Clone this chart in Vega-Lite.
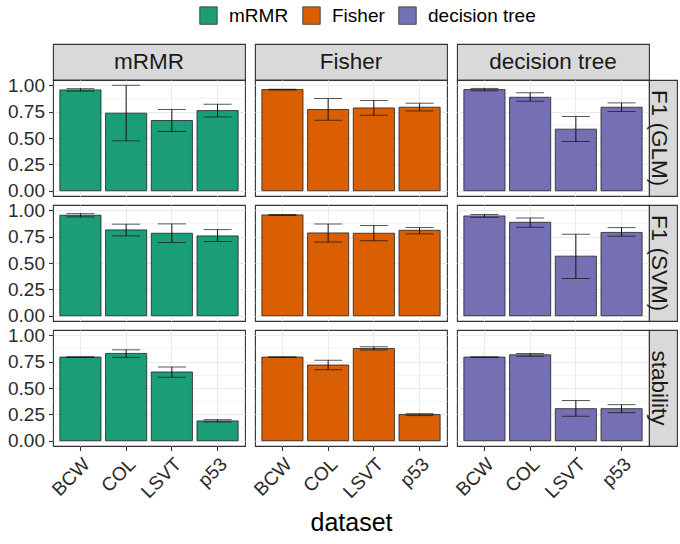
{
  "$schema": "https://vega.github.io/schema/vega-lite/v6.json",
  "background": "white",
  "padding": {"left": 6, "top": 6, "right": 0, "bottom": 4},
  "datasets": {
    "bars": [
      {"method": "mRMR", "metric": "F1 (GLM)", "dataset": "BCW", "mean": 0.956, "lo": 0.945, "hi": 0.968},
      {"method": "mRMR", "metric": "F1 (GLM)", "dataset": "COL", "mean": 0.735, "lo": 0.473, "hi": 1.0},
      {"method": "mRMR", "metric": "F1 (GLM)", "dataset": "LSVT", "mean": 0.666, "lo": 0.562, "hi": 0.77},
      {"method": "mRMR", "metric": "F1 (GLM)", "dataset": "p53", "mean": 0.76, "lo": 0.70, "hi": 0.82},
      {"method": "Fisher", "metric": "F1 (GLM)", "dataset": "BCW", "mean": 0.959, "lo": 0.955, "hi": 0.963},
      {"method": "Fisher", "metric": "F1 (GLM)", "dataset": "COL", "mean": 0.77, "lo": 0.669, "hi": 0.874},
      {"method": "Fisher", "metric": "F1 (GLM)", "dataset": "LSVT", "mean": 0.785, "lo": 0.716, "hi": 0.855},
      {"method": "Fisher", "metric": "F1 (GLM)", "dataset": "p53", "mean": 0.792, "lo": 0.757, "hi": 0.83},
      {"method": "decision tree", "metric": "F1 (GLM)", "dataset": "BCW", "mean": 0.959, "lo": 0.948, "hi": 0.97},
      {"method": "decision tree", "metric": "F1 (GLM)", "dataset": "COL", "mean": 0.886, "lo": 0.849, "hi": 0.93},
      {"method": "decision tree", "metric": "F1 (GLM)", "dataset": "LSVT", "mean": 0.584, "lo": 0.467, "hi": 0.704},
      {"method": "decision tree", "metric": "F1 (GLM)", "dataset": "p53", "mean": 0.792, "lo": 0.751, "hi": 0.833},
      {"method": "mRMR", "metric": "F1 (SVM)", "dataset": "BCW", "mean": 0.953, "lo": 0.937, "hi": 0.968},
      {"method": "mRMR", "metric": "F1 (SVM)", "dataset": "COL", "mean": 0.814, "lo": 0.757, "hi": 0.868},
      {"method": "mRMR", "metric": "F1 (SVM)", "dataset": "LSVT", "mean": 0.782, "lo": 0.694, "hi": 0.871},
      {"method": "mRMR", "metric": "F1 (SVM)", "dataset": "p53", "mean": 0.757, "lo": 0.704, "hi": 0.817},
      {"method": "Fisher", "metric": "F1 (SVM)", "dataset": "BCW", "mean": 0.956, "lo": 0.951, "hi": 0.961},
      {"method": "Fisher", "metric": "F1 (SVM)", "dataset": "COL", "mean": 0.785, "lo": 0.70, "hi": 0.871},
      {"method": "Fisher", "metric": "F1 (SVM)", "dataset": "LSVT", "mean": 0.782, "lo": 0.71, "hi": 0.855},
      {"method": "Fisher", "metric": "F1 (SVM)", "dataset": "p53", "mean": 0.81, "lo": 0.776, "hi": 0.836},
      {"method": "decision tree", "metric": "F1 (SVM)", "dataset": "BCW", "mean": 0.946, "lo": 0.932, "hi": 0.96},
      {"method": "decision tree", "metric": "F1 (SVM)", "dataset": "COL", "mean": 0.886, "lo": 0.839, "hi": 0.927},
      {"method": "decision tree", "metric": "F1 (SVM)", "dataset": "LSVT", "mean": 0.565, "lo": 0.354, "hi": 0.773},
      {"method": "decision tree", "metric": "F1 (SVM)", "dataset": "p53", "mean": 0.79, "lo": 0.754, "hi": 0.836},
      {"method": "mRMR", "metric": "stability", "dataset": "BCW", "mean": 0.793, "lo": 0.79, "hi": 0.796},
      {"method": "mRMR", "metric": "stability", "dataset": "COL", "mean": 0.828, "lo": 0.79, "hi": 0.862},
      {"method": "mRMR", "metric": "stability", "dataset": "LSVT", "mean": 0.652, "lo": 0.602, "hi": 0.699},
      {"method": "mRMR", "metric": "stability", "dataset": "p53", "mean": 0.188, "lo": 0.178, "hi": 0.2},
      {"method": "Fisher", "metric": "stability", "dataset": "BCW", "mean": 0.793, "lo": 0.79, "hi": 0.796},
      {"method": "Fisher", "metric": "stability", "dataset": "COL", "mean": 0.718, "lo": 0.674, "hi": 0.762},
      {"method": "Fisher", "metric": "stability", "dataset": "LSVT", "mean": 0.875, "lo": 0.86, "hi": 0.89},
      {"method": "Fisher", "metric": "stability", "dataset": "p53", "mean": 0.248, "lo": 0.238, "hi": 0.257},
      {"method": "decision tree", "metric": "stability", "dataset": "BCW", "mean": 0.793, "lo": 0.79, "hi": 0.796},
      {"method": "decision tree", "metric": "stability", "dataset": "COL", "mean": 0.815, "lo": 0.802, "hi": 0.827},
      {"method": "decision tree", "metric": "stability", "dataset": "LSVT", "mean": 0.304, "lo": 0.231, "hi": 0.382},
      {"method": "decision tree", "metric": "stability", "dataset": "p53", "mean": 0.304, "lo": 0.266, "hi": 0.342}
    ],
    "blank": [{"t": ""}]
  },
  "config": {
    "font": "Liberation Sans",
    "view": {"stroke": "#333333", "strokeWidth": 1.1},
    "axis": {"gridColor": "#EBEBEB", "tickColor": "#333333", "labelColor": "#2B2B2B", "labelFontSize": 19, "labelOverlap": false, "labelBound": false, "titleFontSize": 25, "titleColor": "#000000", "titleFontWeight": "normal", "domain": false},
    "legend": {"orient": "none", "legendX": 146, "legendY": -38, "direction": "horizontal", "symbolType": "square", "symbolSize": 306, "symbolStrokeColor": "#333333", "symbolStrokeWidth": 0.8, "symbolOpacity": 1, "labelFontSize": 19, "labelColor": "#000000", "labelOffset": 11, "columnPadding": 12}
  },
  "columns": 6,
  "spacing": {"row": 0, "column": 0},
  "align": "each",
  "bounds": "flush",
  "concat": [
    {"width": 192, "height": 36, "data": {"values": [{"label": "mRMR"}]}, "mark": {"type": "text", "fontSize": 22.5, "color": "#1A1A1A"}, "encoding": {"text": {"field": "label"}}, "view": {"fill": "#D9D9D9", "stroke": "#333333", "strokeWidth": 1.1}},
    {"width": 10, "height": 9, "data": {"name": "blank"}, "mark": "text", "encoding": {"text": {"field": "t"}}, "view": {"stroke": null}},
    {"width": 192, "height": 36, "data": {"values": [{"label": "Fisher"}]}, "mark": {"type": "text", "fontSize": 22.5, "color": "#1A1A1A"}, "encoding": {"text": {"field": "label"}}, "view": {"fill": "#D9D9D9", "stroke": "#333333", "strokeWidth": 1.1}},
    {"width": 10, "height": 9, "data": {"name": "blank"}, "mark": "text", "encoding": {"text": {"field": "t"}}, "view": {"stroke": null}},
    {"width": 192, "height": 36, "data": {"values": [{"label": "decision tree"}]}, "mark": {"type": "text", "fontSize": 22.5, "color": "#1A1A1A"}, "encoding": {"text": {"field": "label"}}, "view": {"fill": "#D9D9D9", "stroke": "#333333", "strokeWidth": 1.1}},
    {"width": 10, "height": 9, "data": {"name": "blank"}, "mark": "text", "encoding": {"text": {"field": "t"}}, "view": {"stroke": null}},

    {"width": 192, "height": 116, "data": {"name": "bars"}, "transform": [{"filter": "datum.method == 'mRMR' && datum.metric == 'F1 (GLM)'"}],
     "encoding": {"x": {"field": "dataset", "type": "nominal", "scale": {"domain": ["BCW", "COL", "LSVT", "p53"], "paddingInner": 0.1, "paddingOuter": 0.15}, "axis": {"title": null, "labels": false, "ticks": false, "grid": true, "bandPosition": 0.5}}},
     "layer": [
      {"mark": {"type": "bar", "stroke": "#222222", "strokeWidth": 0.8}, "encoding": {"y": {"field": "mean", "type": "quantitative", "scale": {"domain": [-0.05, 1.05], "nice": false, "zero": false}, "axis": {"title": null, "values": [0, 0.125, 0.25, 0.375, 0.5, 0.625, 0.75, 0.875, 1], "format": ".2f", "labelOpacity": {"condition": {"test": "datum.value % 0.25 != 0", "value": 0}, "value": 1}, "gridWidth": {"condition": {"test": "datum.value % 0.25 != 0", "value": 0.55}, "value": 1.1}, "tickOpacity": {"condition": {"test": "datum.value % 0.25 != 0", "value": 0}, "value": 1}, "tickSize": 4.5, "tickWidth": 1.1, "labelPadding": 4}}, "y2": {"datum": 0}, "color": {"field": "method", "type": "nominal", "scale": {"domain": ["mRMR", "Fisher", "decision tree"], "range": ["#1B9E77", "#D95F02", "#7570B3"]}, "legend": {"title": null}}}},
      {"mark": {"type": "rule", "color": "#111111", "strokeWidth": 1}, "encoding": {"y": {"field": "lo", "type": "quantitative", "axis": {"title": null, "values": [0, 0.125, 0.25, 0.375, 0.5, 0.625, 0.75, 0.875, 1], "format": ".2f", "labelOpacity": {"condition": {"test": "datum.value % 0.25 != 0", "value": 0}, "value": 1}, "gridWidth": {"condition": {"test": "datum.value % 0.25 != 0", "value": 0.55}, "value": 1.1}, "tickOpacity": {"condition": {"test": "datum.value % 0.25 != 0", "value": 0}, "value": 1}, "tickSize": 4.5, "tickWidth": 1.1, "labelPadding": 4}}, "y2": {"field": "hi"}}},
      {"mark": {"type": "tick", "color": "#111111", "thickness": 1, "size": 28}, "encoding": {"y": {"field": "lo", "type": "quantitative", "axis": {"title": null, "values": [0, 0.125, 0.25, 0.375, 0.5, 0.625, 0.75, 0.875, 1], "format": ".2f", "labelOpacity": {"condition": {"test": "datum.value % 0.25 != 0", "value": 0}, "value": 1}, "gridWidth": {"condition": {"test": "datum.value % 0.25 != 0", "value": 0.55}, "value": 1.1}, "tickOpacity": {"condition": {"test": "datum.value % 0.25 != 0", "value": 0}, "value": 1}, "tickSize": 4.5, "tickWidth": 1.1, "labelPadding": 4}}}},
      {"mark": {"type": "tick", "color": "#111111", "thickness": 1, "size": 28}, "encoding": {"y": {"field": "hi", "type": "quantitative", "axis": {"title": null, "values": [0, 0.125, 0.25, 0.375, 0.5, 0.625, 0.75, 0.875, 1], "format": ".2f", "labelOpacity": {"condition": {"test": "datum.value % 0.25 != 0", "value": 0}, "value": 1}, "gridWidth": {"condition": {"test": "datum.value % 0.25 != 0", "value": 0.55}, "value": 1.1}, "tickOpacity": {"condition": {"test": "datum.value % 0.25 != 0", "value": 0}, "value": 1}, "tickSize": 4.5, "tickWidth": 1.1, "labelPadding": 4}}}}
     ]},
    {"width": 10, "height": 9, "data": {"name": "blank"}, "mark": "text", "encoding": {"text": {"field": "t"}}, "view": {"stroke": null}},
    {"width": 192, "height": 116, "data": {"name": "bars"}, "transform": [{"filter": "datum.method == 'Fisher' && datum.metric == 'F1 (GLM)'"}],
     "encoding": {"x": {"field": "dataset", "type": "nominal", "scale": {"domain": ["BCW", "COL", "LSVT", "p53"], "paddingInner": 0.1, "paddingOuter": 0.15}, "axis": {"title": null, "labels": false, "ticks": false, "grid": true, "bandPosition": 0.5}}},
     "layer": [
      {"mark": {"type": "bar", "stroke": "#222222", "strokeWidth": 0.8}, "encoding": {"y": {"field": "mean", "type": "quantitative", "scale": {"domain": [-0.05, 1.05], "nice": false, "zero": false}, "axis": {"title": null, "values": [0, 0.125, 0.25, 0.375, 0.5, 0.625, 0.75, 0.875, 1], "labels": false, "ticks": false, "gridWidth": {"condition": {"test": "datum.value % 0.25 != 0", "value": 0.55}, "value": 1.1}}}, "y2": {"datum": 0}, "color": {"field": "method", "type": "nominal", "scale": {"domain": ["mRMR", "Fisher", "decision tree"], "range": ["#1B9E77", "#D95F02", "#7570B3"]}, "legend": {"title": null}}}},
      {"mark": {"type": "rule", "color": "#111111", "strokeWidth": 1}, "encoding": {"y": {"field": "lo", "type": "quantitative", "axis": {"title": null, "values": [0, 0.125, 0.25, 0.375, 0.5, 0.625, 0.75, 0.875, 1], "labels": false, "ticks": false, "gridWidth": {"condition": {"test": "datum.value % 0.25 != 0", "value": 0.55}, "value": 1.1}}}, "y2": {"field": "hi"}}},
      {"mark": {"type": "tick", "color": "#111111", "thickness": 1, "size": 28}, "encoding": {"y": {"field": "lo", "type": "quantitative", "axis": {"title": null, "values": [0, 0.125, 0.25, 0.375, 0.5, 0.625, 0.75, 0.875, 1], "labels": false, "ticks": false, "gridWidth": {"condition": {"test": "datum.value % 0.25 != 0", "value": 0.55}, "value": 1.1}}}}},
      {"mark": {"type": "tick", "color": "#111111", "thickness": 1, "size": 28}, "encoding": {"y": {"field": "hi", "type": "quantitative", "axis": {"title": null, "values": [0, 0.125, 0.25, 0.375, 0.5, 0.625, 0.75, 0.875, 1], "labels": false, "ticks": false, "gridWidth": {"condition": {"test": "datum.value % 0.25 != 0", "value": 0.55}, "value": 1.1}}}}}
     ]},
    {"width": 10, "height": 9, "data": {"name": "blank"}, "mark": "text", "encoding": {"text": {"field": "t"}}, "view": {"stroke": null}},
    {"width": 192, "height": 116, "data": {"name": "bars"}, "transform": [{"filter": "datum.method == 'decision tree' && datum.metric == 'F1 (GLM)'"}],
     "encoding": {"x": {"field": "dataset", "type": "nominal", "scale": {"domain": ["BCW", "COL", "LSVT", "p53"], "paddingInner": 0.1, "paddingOuter": 0.15}, "axis": {"title": null, "labels": false, "ticks": false, "grid": true, "bandPosition": 0.5}}},
     "layer": [
      {"mark": {"type": "bar", "stroke": "#222222", "strokeWidth": 0.8}, "encoding": {"y": {"field": "mean", "type": "quantitative", "scale": {"domain": [-0.05, 1.05], "nice": false, "zero": false}, "axis": {"title": null, "values": [0, 0.125, 0.25, 0.375, 0.5, 0.625, 0.75, 0.875, 1], "labels": false, "ticks": false, "gridWidth": {"condition": {"test": "datum.value % 0.25 != 0", "value": 0.55}, "value": 1.1}}}, "y2": {"datum": 0}, "color": {"field": "method", "type": "nominal", "scale": {"domain": ["mRMR", "Fisher", "decision tree"], "range": ["#1B9E77", "#D95F02", "#7570B3"]}, "legend": {"title": null}}}},
      {"mark": {"type": "rule", "color": "#111111", "strokeWidth": 1}, "encoding": {"y": {"field": "lo", "type": "quantitative", "axis": {"title": null, "values": [0, 0.125, 0.25, 0.375, 0.5, 0.625, 0.75, 0.875, 1], "labels": false, "ticks": false, "gridWidth": {"condition": {"test": "datum.value % 0.25 != 0", "value": 0.55}, "value": 1.1}}}, "y2": {"field": "hi"}}},
      {"mark": {"type": "tick", "color": "#111111", "thickness": 1, "size": 28}, "encoding": {"y": {"field": "lo", "type": "quantitative", "axis": {"title": null, "values": [0, 0.125, 0.25, 0.375, 0.5, 0.625, 0.75, 0.875, 1], "labels": false, "ticks": false, "gridWidth": {"condition": {"test": "datum.value % 0.25 != 0", "value": 0.55}, "value": 1.1}}}}},
      {"mark": {"type": "tick", "color": "#111111", "thickness": 1, "size": 28}, "encoding": {"y": {"field": "hi", "type": "quantitative", "axis": {"title": null, "values": [0, 0.125, 0.25, 0.375, 0.5, 0.625, 0.75, 0.875, 1], "labels": false, "ticks": false, "gridWidth": {"condition": {"test": "datum.value % 0.25 != 0", "value": 0.55}, "value": 1.1}}}}}
     ]},
    {"width": 28, "height": 116, "data": {"values": [{"label": "F1 (GLM)"}]}, "mark": {"type": "text", "fontSize": 22.5, "color": "#1A1A1A", "angle": 90, "dy": 4}, "encoding": {"text": {"field": "label"}}, "view": {"fill": "#D9D9D9", "stroke": "#333333", "strokeWidth": 1.1}},

    {"width": 10, "height": 9, "data": {"name": "blank"}, "mark": "text", "encoding": {"text": {"field": "t"}}, "view": {"stroke": null}},
    {"width": 10, "height": 9, "data": {"name": "blank"}, "mark": "text", "encoding": {"text": {"field": "t"}}, "view": {"stroke": null}},
    {"width": 10, "height": 9, "data": {"name": "blank"}, "mark": "text", "encoding": {"text": {"field": "t"}}, "view": {"stroke": null}},
    {"width": 10, "height": 9, "data": {"name": "blank"}, "mark": "text", "encoding": {"text": {"field": "t"}}, "view": {"stroke": null}},
    {"width": 10, "height": 9, "data": {"name": "blank"}, "mark": "text", "encoding": {"text": {"field": "t"}}, "view": {"stroke": null}},
    {"width": 10, "height": 9, "data": {"name": "blank"}, "mark": "text", "encoding": {"text": {"field": "t"}}, "view": {"stroke": null}},

    {"width": 192, "height": 116, "data": {"name": "bars"}, "transform": [{"filter": "datum.method == 'mRMR' && datum.metric == 'F1 (SVM)'"}],
     "encoding": {"x": {"field": "dataset", "type": "nominal", "scale": {"domain": ["BCW", "COL", "LSVT", "p53"], "paddingInner": 0.1, "paddingOuter": 0.15}, "axis": {"title": null, "labels": false, "ticks": false, "grid": true, "bandPosition": 0.5}}},
     "layer": [
      {"mark": {"type": "bar", "stroke": "#222222", "strokeWidth": 0.8}, "encoding": {"y": {"field": "mean", "type": "quantitative", "scale": {"domain": [-0.05, 1.05], "nice": false, "zero": false}, "axis": {"title": null, "values": [0, 0.125, 0.25, 0.375, 0.5, 0.625, 0.75, 0.875, 1], "format": ".2f", "labelOpacity": {"condition": {"test": "datum.value % 0.25 != 0", "value": 0}, "value": 1}, "gridWidth": {"condition": {"test": "datum.value % 0.25 != 0", "value": 0.55}, "value": 1.1}, "tickOpacity": {"condition": {"test": "datum.value % 0.25 != 0", "value": 0}, "value": 1}, "tickSize": 4.5, "tickWidth": 1.1, "labelPadding": 4}}, "y2": {"datum": 0}, "color": {"field": "method", "type": "nominal", "scale": {"domain": ["mRMR", "Fisher", "decision tree"], "range": ["#1B9E77", "#D95F02", "#7570B3"]}, "legend": {"title": null}}}},
      {"mark": {"type": "rule", "color": "#111111", "strokeWidth": 1}, "encoding": {"y": {"field": "lo", "type": "quantitative", "axis": {"title": null, "values": [0, 0.125, 0.25, 0.375, 0.5, 0.625, 0.75, 0.875, 1], "format": ".2f", "labelOpacity": {"condition": {"test": "datum.value % 0.25 != 0", "value": 0}, "value": 1}, "gridWidth": {"condition": {"test": "datum.value % 0.25 != 0", "value": 0.55}, "value": 1.1}, "tickOpacity": {"condition": {"test": "datum.value % 0.25 != 0", "value": 0}, "value": 1}, "tickSize": 4.5, "tickWidth": 1.1, "labelPadding": 4}}, "y2": {"field": "hi"}}},
      {"mark": {"type": "tick", "color": "#111111", "thickness": 1, "size": 28}, "encoding": {"y": {"field": "lo", "type": "quantitative", "axis": {"title": null, "values": [0, 0.125, 0.25, 0.375, 0.5, 0.625, 0.75, 0.875, 1], "format": ".2f", "labelOpacity": {"condition": {"test": "datum.value % 0.25 != 0", "value": 0}, "value": 1}, "gridWidth": {"condition": {"test": "datum.value % 0.25 != 0", "value": 0.55}, "value": 1.1}, "tickOpacity": {"condition": {"test": "datum.value % 0.25 != 0", "value": 0}, "value": 1}, "tickSize": 4.5, "tickWidth": 1.1, "labelPadding": 4}}}},
      {"mark": {"type": "tick", "color": "#111111", "thickness": 1, "size": 28}, "encoding": {"y": {"field": "hi", "type": "quantitative", "axis": {"title": null, "values": [0, 0.125, 0.25, 0.375, 0.5, 0.625, 0.75, 0.875, 1], "format": ".2f", "labelOpacity": {"condition": {"test": "datum.value % 0.25 != 0", "value": 0}, "value": 1}, "gridWidth": {"condition": {"test": "datum.value % 0.25 != 0", "value": 0.55}, "value": 1.1}, "tickOpacity": {"condition": {"test": "datum.value % 0.25 != 0", "value": 0}, "value": 1}, "tickSize": 4.5, "tickWidth": 1.1, "labelPadding": 4}}}}
     ]},
    {"width": 10, "height": 9, "data": {"name": "blank"}, "mark": "text", "encoding": {"text": {"field": "t"}}, "view": {"stroke": null}},
    {"width": 192, "height": 116, "data": {"name": "bars"}, "transform": [{"filter": "datum.method == 'Fisher' && datum.metric == 'F1 (SVM)'"}],
     "encoding": {"x": {"field": "dataset", "type": "nominal", "scale": {"domain": ["BCW", "COL", "LSVT", "p53"], "paddingInner": 0.1, "paddingOuter": 0.15}, "axis": {"title": null, "labels": false, "ticks": false, "grid": true, "bandPosition": 0.5}}},
     "layer": [
      {"mark": {"type": "bar", "stroke": "#222222", "strokeWidth": 0.8}, "encoding": {"y": {"field": "mean", "type": "quantitative", "scale": {"domain": [-0.05, 1.05], "nice": false, "zero": false}, "axis": {"title": null, "values": [0, 0.125, 0.25, 0.375, 0.5, 0.625, 0.75, 0.875, 1], "labels": false, "ticks": false, "gridWidth": {"condition": {"test": "datum.value % 0.25 != 0", "value": 0.55}, "value": 1.1}}}, "y2": {"datum": 0}, "color": {"field": "method", "type": "nominal", "scale": {"domain": ["mRMR", "Fisher", "decision tree"], "range": ["#1B9E77", "#D95F02", "#7570B3"]}, "legend": {"title": null}}}},
      {"mark": {"type": "rule", "color": "#111111", "strokeWidth": 1}, "encoding": {"y": {"field": "lo", "type": "quantitative", "axis": {"title": null, "values": [0, 0.125, 0.25, 0.375, 0.5, 0.625, 0.75, 0.875, 1], "labels": false, "ticks": false, "gridWidth": {"condition": {"test": "datum.value % 0.25 != 0", "value": 0.55}, "value": 1.1}}}, "y2": {"field": "hi"}}},
      {"mark": {"type": "tick", "color": "#111111", "thickness": 1, "size": 28}, "encoding": {"y": {"field": "lo", "type": "quantitative", "axis": {"title": null, "values": [0, 0.125, 0.25, 0.375, 0.5, 0.625, 0.75, 0.875, 1], "labels": false, "ticks": false, "gridWidth": {"condition": {"test": "datum.value % 0.25 != 0", "value": 0.55}, "value": 1.1}}}}},
      {"mark": {"type": "tick", "color": "#111111", "thickness": 1, "size": 28}, "encoding": {"y": {"field": "hi", "type": "quantitative", "axis": {"title": null, "values": [0, 0.125, 0.25, 0.375, 0.5, 0.625, 0.75, 0.875, 1], "labels": false, "ticks": false, "gridWidth": {"condition": {"test": "datum.value % 0.25 != 0", "value": 0.55}, "value": 1.1}}}}}
     ]},
    {"width": 10, "height": 9, "data": {"name": "blank"}, "mark": "text", "encoding": {"text": {"field": "t"}}, "view": {"stroke": null}},
    {"width": 192, "height": 116, "data": {"name": "bars"}, "transform": [{"filter": "datum.method == 'decision tree' && datum.metric == 'F1 (SVM)'"}],
     "encoding": {"x": {"field": "dataset", "type": "nominal", "scale": {"domain": ["BCW", "COL", "LSVT", "p53"], "paddingInner": 0.1, "paddingOuter": 0.15}, "axis": {"title": null, "labels": false, "ticks": false, "grid": true, "bandPosition": 0.5}}},
     "layer": [
      {"mark": {"type": "bar", "stroke": "#222222", "strokeWidth": 0.8}, "encoding": {"y": {"field": "mean", "type": "quantitative", "scale": {"domain": [-0.05, 1.05], "nice": false, "zero": false}, "axis": {"title": null, "values": [0, 0.125, 0.25, 0.375, 0.5, 0.625, 0.75, 0.875, 1], "labels": false, "ticks": false, "gridWidth": {"condition": {"test": "datum.value % 0.25 != 0", "value": 0.55}, "value": 1.1}}}, "y2": {"datum": 0}, "color": {"field": "method", "type": "nominal", "scale": {"domain": ["mRMR", "Fisher", "decision tree"], "range": ["#1B9E77", "#D95F02", "#7570B3"]}, "legend": {"title": null}}}},
      {"mark": {"type": "rule", "color": "#111111", "strokeWidth": 1}, "encoding": {"y": {"field": "lo", "type": "quantitative", "axis": {"title": null, "values": [0, 0.125, 0.25, 0.375, 0.5, 0.625, 0.75, 0.875, 1], "labels": false, "ticks": false, "gridWidth": {"condition": {"test": "datum.value % 0.25 != 0", "value": 0.55}, "value": 1.1}}}, "y2": {"field": "hi"}}},
      {"mark": {"type": "tick", "color": "#111111", "thickness": 1, "size": 28}, "encoding": {"y": {"field": "lo", "type": "quantitative", "axis": {"title": null, "values": [0, 0.125, 0.25, 0.375, 0.5, 0.625, 0.75, 0.875, 1], "labels": false, "ticks": false, "gridWidth": {"condition": {"test": "datum.value % 0.25 != 0", "value": 0.55}, "value": 1.1}}}}},
      {"mark": {"type": "tick", "color": "#111111", "thickness": 1, "size": 28}, "encoding": {"y": {"field": "hi", "type": "quantitative", "axis": {"title": null, "values": [0, 0.125, 0.25, 0.375, 0.5, 0.625, 0.75, 0.875, 1], "labels": false, "ticks": false, "gridWidth": {"condition": {"test": "datum.value % 0.25 != 0", "value": 0.55}, "value": 1.1}}}}}
     ]},
    {"width": 28, "height": 116, "data": {"values": [{"label": "F1 (SVM)"}]}, "mark": {"type": "text", "fontSize": 22.5, "color": "#1A1A1A", "angle": 90, "dy": 4}, "encoding": {"text": {"field": "label"}}, "view": {"fill": "#D9D9D9", "stroke": "#333333", "strokeWidth": 1.1}},

    {"width": 10, "height": 9, "data": {"name": "blank"}, "mark": "text", "encoding": {"text": {"field": "t"}}, "view": {"stroke": null}},
    {"width": 10, "height": 9, "data": {"name": "blank"}, "mark": "text", "encoding": {"text": {"field": "t"}}, "view": {"stroke": null}},
    {"width": 10, "height": 9, "data": {"name": "blank"}, "mark": "text", "encoding": {"text": {"field": "t"}}, "view": {"stroke": null}},
    {"width": 10, "height": 9, "data": {"name": "blank"}, "mark": "text", "encoding": {"text": {"field": "t"}}, "view": {"stroke": null}},
    {"width": 10, "height": 9, "data": {"name": "blank"}, "mark": "text", "encoding": {"text": {"field": "t"}}, "view": {"stroke": null}},
    {"width": 10, "height": 9, "data": {"name": "blank"}, "mark": "text", "encoding": {"text": {"field": "t"}}, "view": {"stroke": null}},

    {"width": 192, "height": 116, "data": {"name": "bars"}, "transform": [{"filter": "datum.method == 'mRMR' && datum.metric == 'stability'"}],
     "encoding": {"x": {"field": "dataset", "type": "nominal", "scale": {"domain": ["BCW", "COL", "LSVT", "p53"], "paddingInner": 0.1, "paddingOuter": 0.15}, "axis": {"title": null, "grid": true, "bandPosition": 0.5, "labelAngle": -45, "labelAlign": "right", "labelBaseline": "top", "tickSize": 4.5, "tickWidth": 1.1, "labelPadding": 4, "labelOverlap": false}}},
     "layer": [
      {"mark": {"type": "bar", "stroke": "#222222", "strokeWidth": 0.8}, "encoding": {"y": {"field": "mean", "type": "quantitative", "scale": {"domain": [-0.05, 1.05], "nice": false, "zero": false}, "axis": {"title": null, "values": [0, 0.125, 0.25, 0.375, 0.5, 0.625, 0.75, 0.875, 1], "format": ".2f", "labelOpacity": {"condition": {"test": "datum.value % 0.25 != 0", "value": 0}, "value": 1}, "gridWidth": {"condition": {"test": "datum.value % 0.25 != 0", "value": 0.55}, "value": 1.1}, "tickOpacity": {"condition": {"test": "datum.value % 0.25 != 0", "value": 0}, "value": 1}, "tickSize": 4.5, "tickWidth": 1.1, "labelPadding": 4}}, "y2": {"datum": 0}, "color": {"field": "method", "type": "nominal", "scale": {"domain": ["mRMR", "Fisher", "decision tree"], "range": ["#1B9E77", "#D95F02", "#7570B3"]}, "legend": {"title": null}}}},
      {"mark": {"type": "rule", "color": "#111111", "strokeWidth": 1}, "encoding": {"y": {"field": "lo", "type": "quantitative", "axis": {"title": null, "values": [0, 0.125, 0.25, 0.375, 0.5, 0.625, 0.75, 0.875, 1], "format": ".2f", "labelOpacity": {"condition": {"test": "datum.value % 0.25 != 0", "value": 0}, "value": 1}, "gridWidth": {"condition": {"test": "datum.value % 0.25 != 0", "value": 0.55}, "value": 1.1}, "tickOpacity": {"condition": {"test": "datum.value % 0.25 != 0", "value": 0}, "value": 1}, "tickSize": 4.5, "tickWidth": 1.1, "labelPadding": 4}}, "y2": {"field": "hi"}}},
      {"mark": {"type": "tick", "color": "#111111", "thickness": 1, "size": 28}, "encoding": {"y": {"field": "lo", "type": "quantitative", "axis": {"title": null, "values": [0, 0.125, 0.25, 0.375, 0.5, 0.625, 0.75, 0.875, 1], "format": ".2f", "labelOpacity": {"condition": {"test": "datum.value % 0.25 != 0", "value": 0}, "value": 1}, "gridWidth": {"condition": {"test": "datum.value % 0.25 != 0", "value": 0.55}, "value": 1.1}, "tickOpacity": {"condition": {"test": "datum.value % 0.25 != 0", "value": 0}, "value": 1}, "tickSize": 4.5, "tickWidth": 1.1, "labelPadding": 4}}}},
      {"mark": {"type": "tick", "color": "#111111", "thickness": 1, "size": 28}, "encoding": {"y": {"field": "hi", "type": "quantitative", "axis": {"title": null, "values": [0, 0.125, 0.25, 0.375, 0.5, 0.625, 0.75, 0.875, 1], "format": ".2f", "labelOpacity": {"condition": {"test": "datum.value % 0.25 != 0", "value": 0}, "value": 1}, "gridWidth": {"condition": {"test": "datum.value % 0.25 != 0", "value": 0.55}, "value": 1.1}, "tickOpacity": {"condition": {"test": "datum.value % 0.25 != 0", "value": 0}, "value": 1}, "tickSize": 4.5, "tickWidth": 1.1, "labelPadding": 4}}}}
     ]},
    {"width": 10, "height": 9, "data": {"name": "blank"}, "mark": "text", "encoding": {"text": {"field": "t"}}, "view": {"stroke": null}},
    {"width": 192, "height": 116, "data": {"name": "bars"}, "transform": [{"filter": "datum.method == 'Fisher' && datum.metric == 'stability'"}],
     "encoding": {"x": {"field": "dataset", "type": "nominal", "scale": {"domain": ["BCW", "COL", "LSVT", "p53"], "paddingInner": 0.1, "paddingOuter": 0.15}, "axis": {"title": "dataset", "titlePadding": 9, "grid": true, "bandPosition": 0.5, "labelAngle": -45, "labelAlign": "right", "labelBaseline": "top", "tickSize": 4.5, "tickWidth": 1.1, "labelPadding": 4, "labelOverlap": false}}},
     "layer": [
      {"mark": {"type": "bar", "stroke": "#222222", "strokeWidth": 0.8}, "encoding": {"y": {"field": "mean", "type": "quantitative", "scale": {"domain": [-0.05, 1.05], "nice": false, "zero": false}, "axis": {"title": null, "values": [0, 0.125, 0.25, 0.375, 0.5, 0.625, 0.75, 0.875, 1], "labels": false, "ticks": false, "gridWidth": {"condition": {"test": "datum.value % 0.25 != 0", "value": 0.55}, "value": 1.1}}}, "y2": {"datum": 0}, "color": {"field": "method", "type": "nominal", "scale": {"domain": ["mRMR", "Fisher", "decision tree"], "range": ["#1B9E77", "#D95F02", "#7570B3"]}, "legend": {"title": null}}}},
      {"mark": {"type": "rule", "color": "#111111", "strokeWidth": 1}, "encoding": {"y": {"field": "lo", "type": "quantitative", "axis": {"title": null, "values": [0, 0.125, 0.25, 0.375, 0.5, 0.625, 0.75, 0.875, 1], "labels": false, "ticks": false, "gridWidth": {"condition": {"test": "datum.value % 0.25 != 0", "value": 0.55}, "value": 1.1}}}, "y2": {"field": "hi"}}},
      {"mark": {"type": "tick", "color": "#111111", "thickness": 1, "size": 28}, "encoding": {"y": {"field": "lo", "type": "quantitative", "axis": {"title": null, "values": [0, 0.125, 0.25, 0.375, 0.5, 0.625, 0.75, 0.875, 1], "labels": false, "ticks": false, "gridWidth": {"condition": {"test": "datum.value % 0.25 != 0", "value": 0.55}, "value": 1.1}}}}},
      {"mark": {"type": "tick", "color": "#111111", "thickness": 1, "size": 28}, "encoding": {"y": {"field": "hi", "type": "quantitative", "axis": {"title": null, "values": [0, 0.125, 0.25, 0.375, 0.5, 0.625, 0.75, 0.875, 1], "labels": false, "ticks": false, "gridWidth": {"condition": {"test": "datum.value % 0.25 != 0", "value": 0.55}, "value": 1.1}}}}}
     ]},
    {"width": 10, "height": 9, "data": {"name": "blank"}, "mark": "text", "encoding": {"text": {"field": "t"}}, "view": {"stroke": null}},
    {"width": 192, "height": 116, "data": {"name": "bars"}, "transform": [{"filter": "datum.method == 'decision tree' && datum.metric == 'stability'"}],
     "encoding": {"x": {"field": "dataset", "type": "nominal", "scale": {"domain": ["BCW", "COL", "LSVT", "p53"], "paddingInner": 0.1, "paddingOuter": 0.15}, "axis": {"title": null, "grid": true, "bandPosition": 0.5, "labelAngle": -45, "labelAlign": "right", "labelBaseline": "top", "tickSize": 4.5, "tickWidth": 1.1, "labelPadding": 4, "labelOverlap": false}}},
     "layer": [
      {"mark": {"type": "bar", "stroke": "#222222", "strokeWidth": 0.8}, "encoding": {"y": {"field": "mean", "type": "quantitative", "scale": {"domain": [-0.05, 1.05], "nice": false, "zero": false}, "axis": {"title": null, "values": [0, 0.125, 0.25, 0.375, 0.5, 0.625, 0.75, 0.875, 1], "labels": false, "ticks": false, "gridWidth": {"condition": {"test": "datum.value % 0.25 != 0", "value": 0.55}, "value": 1.1}}}, "y2": {"datum": 0}, "color": {"field": "method", "type": "nominal", "scale": {"domain": ["mRMR", "Fisher", "decision tree"], "range": ["#1B9E77", "#D95F02", "#7570B3"]}, "legend": {"title": null}}}},
      {"mark": {"type": "rule", "color": "#111111", "strokeWidth": 1}, "encoding": {"y": {"field": "lo", "type": "quantitative", "axis": {"title": null, "values": [0, 0.125, 0.25, 0.375, 0.5, 0.625, 0.75, 0.875, 1], "labels": false, "ticks": false, "gridWidth": {"condition": {"test": "datum.value % 0.25 != 0", "value": 0.55}, "value": 1.1}}}, "y2": {"field": "hi"}}},
      {"mark": {"type": "tick", "color": "#111111", "thickness": 1, "size": 28}, "encoding": {"y": {"field": "lo", "type": "quantitative", "axis": {"title": null, "values": [0, 0.125, 0.25, 0.375, 0.5, 0.625, 0.75, 0.875, 1], "labels": false, "ticks": false, "gridWidth": {"condition": {"test": "datum.value % 0.25 != 0", "value": 0.55}, "value": 1.1}}}}},
      {"mark": {"type": "tick", "color": "#111111", "thickness": 1, "size": 28}, "encoding": {"y": {"field": "hi", "type": "quantitative", "axis": {"title": null, "values": [0, 0.125, 0.25, 0.375, 0.5, 0.625, 0.75, 0.875, 1], "labels": false, "ticks": false, "gridWidth": {"condition": {"test": "datum.value % 0.25 != 0", "value": 0.55}, "value": 1.1}}}}}
     ]},
    {"width": 28, "height": 116, "data": {"values": [{"label": "stability"}]}, "mark": {"type": "text", "fontSize": 22.5, "color": "#1A1A1A", "angle": 90, "dy": 4}, "encoding": {"text": {"field": "label"}}, "view": {"fill": "#D9D9D9", "stroke": "#333333", "strokeWidth": 1.1}}
  ]
}
